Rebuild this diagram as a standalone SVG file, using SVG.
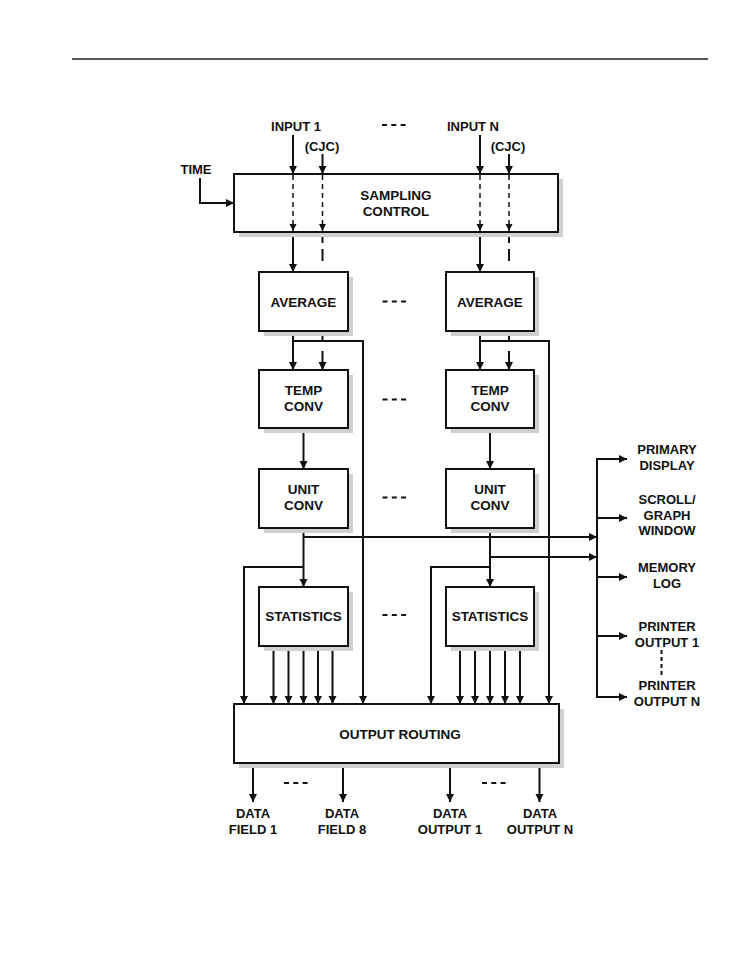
<svg xmlns="http://www.w3.org/2000/svg" width="756" height="972" viewBox="0 0 756 972">
<defs>
<marker id="ah" markerUnits="userSpaceOnUse" markerWidth="9" markerHeight="9" refX="8" refY="4" orient="auto">
<path d="M0,0 L8,4 L0,8 Z" fill="#111"/>
</marker>
<marker id="ahs" markerUnits="userSpaceOnUse" markerWidth="8" markerHeight="8" refX="7" refY="3.5" orient="auto">
<path d="M0,0 L7,3.5 L0,7 Z" fill="#111"/>
</marker>
</defs>
<style>
.box{fill:#fff;stroke:#111;stroke-width:2}
.sh{fill:#d0d0d0;stroke:none}
.ln{fill:none;stroke:#111;stroke-width:2}
.ar{fill:none;stroke:#111;stroke-width:2;marker-end:url(#ah)}
.da{fill:none;stroke:#111;stroke-width:1.5;stroke-dasharray:5,4;marker-end:url(#ahs)}
.dl{fill:none;stroke:#111;stroke-width:2}
.sep{fill:none;stroke:#111;stroke-width:2;stroke-dasharray:5,4.3}
.t{font-family:"Liberation Sans",Arial,sans-serif;font-weight:bold;font-size:13.5px;fill:#111;text-anchor:middle}
.l{font-family:"Liberation Sans",Arial,sans-serif;font-weight:bold;font-size:13px;fill:#111;text-anchor:middle}
</style>
<rect width="756" height="972" fill="#fff"/>
<line x1="72" y1="59" x2="708" y2="59" stroke="#222" stroke-width="1.5"/>

<g id="connectors">
<path class="ar" d="M293,135 V174"/>
<path class="ar" d="M322.5,154 V174"/>
<path class="ar" d="M480,135 V174"/>
<path class="ar" d="M509,154 V174"/>
<path class="ar" d="M200,178 V203 H234"/>
<path class="ar" d="M293,232 V272"/>
<path class="ar" d="M480,232 V272"/>
<path class="dl" d="M322.5,236 V243 M322.5,249 V261"/>
<path class="dl" d="M509,236 V243 M509,249 V261"/>
<path class="ar" d="M293,331 V370"/>
<path class="ar" d="M293,341 H363 V704"/>
<path class="dl" d="M322.5,331 V341"/>
<path class="ar" d="M322.5,351 V370"/>
<path class="ar" d="M480,331 V370"/>
<path class="ar" d="M480,341 H549 V704"/>
<path class="dl" d="M509,331 V341"/>
<path class="ar" d="M509,351 V370"/>
<path class="ar" d="M303.5,428 V469"/>
<path class="ar" d="M490,428 V469"/>
<path class="ar" d="M303.5,528 V587"/>
<path class="ar" d="M303.5,537 H597"/>
<path class="ar" d="M303.5,567 H244 V704"/>
<path class="ar" d="M490,528 V587"/>
<path class="ar" d="M490,557 H597"/>
<path class="ar" d="M490,567 H431 V704"/>
<path class="ar" d="M273.5,646 V704"/>
<path class="ar" d="M288.5,646 V704" stroke-width="1.5"/>
<path class="ar" d="M303.5,646 V704"/>
<path class="ar" d="M318,646 V704"/>
<path class="ar" d="M332.5,646 V704"/>
<path class="ar" d="M460,646 V704"/>
<path class="ar" d="M475,646 V704"/>
<path class="ar" d="M490,646 V704"/>
<path class="ar" d="M505,646 V704"/>
<path class="ar" d="M520,646 V704"/>
<path class="ln" d="M597,458 V698"/>
<path class="ar" d="M596,459 H627"/>
<path class="ar" d="M597,518 H627"/>
<path class="ar" d="M597,577 H627"/>
<path class="ar" d="M597,636 H627"/>
<path class="ar" d="M596,697 H627"/>
<path class="ar" d="M253,763 V802"/>
<path class="ar" d="M343,763 V802"/>
<path class="ar" d="M450,763 V802"/>
<path class="ar" d="M539.5,763 V802"/>
<path class="sep" d="M382,125 H406"/>
<path class="sep" d="M382.5,301.5 H406.5"/>
<path class="sep" d="M382.5,399.5 H406.5"/>
<path class="sep" d="M382.5,497.5 H406.5"/>
<path class="sep" d="M382.5,615 H406.5"/>
<path class="sep" d="M284,783 H308"/>
<path class="sep" d="M482,783 H506"/>
<path class="ln" d="M661.5,650 V677" stroke-dasharray="4,3"/>
</g>

<g id="sampling-control">
<rect class="sh" x="239" y="179" width="324" height="58"/>
<rect class="box" x="234" y="174" width="324" height="58"/>
<text class="t" x="396" y="199.5">SAMPLING</text>
<text class="t" x="396" y="215.5">CONTROL</text>
</g>
<g id="sampling-paths">
<path class="da" d="M293,175 V231"/>
<path class="da" d="M322.5,175 V231"/>
<path class="da" d="M480,175 V231"/>
<path class="da" d="M509,175 V231"/>
</g>

<g id="average-1">
<rect class="sh" x="264" y="277" width="89" height="59"/>
<rect class="box" x="259" y="272" width="89" height="59"/>
<text class="t" x="303.5" y="306.5">AVERAGE</text>
</g>
<g id="average-n">
<rect class="sh" x="451" y="277" width="88" height="59"/>
<rect class="box" x="446" y="272" width="88" height="59"/>
<text class="t" x="490" y="306.5">AVERAGE</text>
</g>
<g id="temp-conv-1">
<rect class="sh" x="264" y="375" width="89" height="58"/>
<rect class="box" x="259" y="370" width="89" height="58"/>
<text class="t" x="303.5" y="395">TEMP</text>
<text class="t" x="303.5" y="411">CONV</text>
</g>
<g id="temp-conv-n">
<rect class="sh" x="451" y="375" width="88" height="58"/>
<rect class="box" x="446" y="370" width="88" height="58"/>
<text class="t" x="490" y="395">TEMP</text>
<text class="t" x="490" y="411">CONV</text>
</g>
<g id="unit-conv-1">
<rect class="sh" x="264" y="474" width="89" height="59"/>
<rect class="box" x="259" y="469" width="89" height="59"/>
<text class="t" x="303.5" y="493.5">UNIT</text>
<text class="t" x="303.5" y="509.5">CONV</text>
</g>
<g id="unit-conv-n">
<rect class="sh" x="451" y="474" width="88" height="59"/>
<rect class="box" x="446" y="469" width="88" height="59"/>
<text class="t" x="490" y="493.5">UNIT</text>
<text class="t" x="490" y="509.5">CONV</text>
</g>
<g id="statistics-1">
<rect class="sh" x="264" y="592" width="89" height="59"/>
<rect class="box" x="259" y="587" width="89" height="59"/>
<text class="t" x="303.5" y="621">STATISTICS</text>
</g>
<g id="statistics-n">
<rect class="sh" x="451" y="592" width="88" height="59"/>
<rect class="box" x="446" y="587" width="88" height="59"/>
<text class="t" x="490" y="621">STATISTICS</text>
</g>
<g id="output-routing">
<rect class="sh" x="239" y="709" width="325" height="59"/>
<rect class="box" x="234" y="704" width="325" height="59"/>
<text class="t" x="400" y="738.5">OUTPUT ROUTING</text>
</g>

<g id="labels">
<text class="l" x="296" y="130.5">INPUT 1</text>
<text class="l" x="473" y="130.5">INPUT N</text>
<text class="l" x="322" y="150.5">(CJC)</text>
<text class="l" x="508" y="150.5">(CJC)</text>
<text class="l" x="196" y="173.5">TIME</text>
<text class="l" x="667" y="454">PRIMARY</text>
<text class="l" x="667" y="470">DISPLAY</text>
<text class="l" x="667" y="504">SCROLL/</text>
<text class="l" x="667" y="519.5">GRAPH</text>
<text class="l" x="667" y="535">WINDOW</text>
<text class="l" x="667" y="572">MEMORY</text>
<text class="l" x="667" y="588">LOG</text>
<text class="l" x="667" y="631">PRINTER</text>
<text class="l" x="667" y="647">OUTPUT 1</text>
<text class="l" x="667" y="690">PRINTER</text>
<text class="l" x="667" y="706">OUTPUT N</text>
<text class="l" x="253" y="817.5">DATA</text>
<text class="l" x="253" y="834">FIELD 1</text>
<text class="l" x="342" y="817.5">DATA</text>
<text class="l" x="342" y="834">FIELD 8</text>
<text class="l" x="450" y="817.5">DATA</text>
<text class="l" x="450" y="834">OUTPUT 1</text>
<text class="l" x="540" y="817.5">DATA</text>
<text class="l" x="540" y="834">OUTPUT N</text>
</g>
</svg>
